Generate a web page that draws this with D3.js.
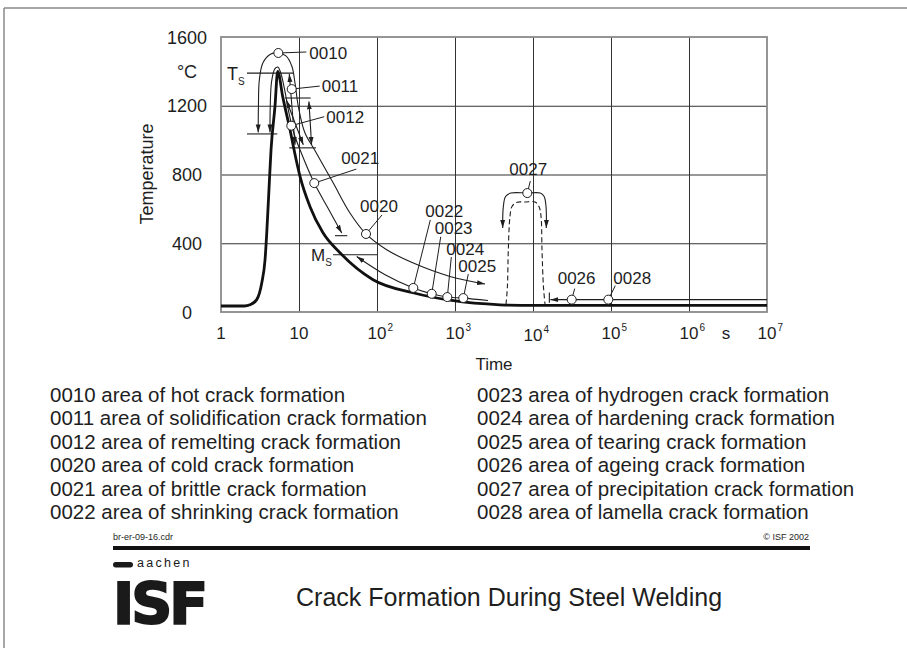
<!DOCTYPE html>
<html><head><meta charset="utf-8">
<script src="https://cdn.jsdelivr.net/npm/d3@7"></script>
<style>
html,body{margin:0;padding:0;background:#fff;}
svg{display:block;font-family:"Liberation Sans",Arial,Helvetica,sans-serif;}
</style></head><body>
<svg id="chart" width="907" height="648"></svg>
<script>
// ---------- data (time in s, temperature in °C) ----------
const timeTicks = [1, 10, 1e2, 1e3, 1e4, 1e5, 1e6, 1e7];
const timeTickExponents = [0, 1, 2, 3, 4, 5, 6, 7];
const tempTicks = [0, 400, 800, 1200, 1600];

const thermalCycle = [[1,35],[2.0,35],[2.35,42],[2.87,72],[3.33,169],[3.67,304],[3.86,460],[4.12,712],[4.38,944],[4.92,1196],[5.33,1400],[6.2,1250],[7.67,1060],[9.15,890],[10.3,789],[13.8,614],[20.3,461],[33.5,345],[89,188],[289,112],[907,67],[3776,42],[1e4,38],[1e7,38]];
const hotCrackCurve = [[3.0,1045],[3.02,1200],[3.1,1350],[3.45,1450],[4.3,1500],[5.43,1507],[6.8,1490],[8.1,1430],[8.9,1330],[9.8,1196],[11.9,1043],[16,940],[27.5,750],[45,576],[72.3,454],[133,362],[292,285],[863,207],[2425,163]];
const brittleCrackCurve = [[4.25,1045],[4.28,1200],[4.45,1340],[4.9,1415],[5.35,1425],[5.8,1395],[6.5,1300],[7.5,1150],[8.6,1040],[10.3,944],[15.7,750],[23.5,605],[35.3,460]];
const coolingCrackCurve = [[54.9,323],[127,217],[292,140],[503,106],[797,87],[1277,81],[2650,67]];
const precipitationArc = [[4090,489],[4160,610],[4450,672],[5200,692],[8453,692],[12400,692],[13900,672],[14700,610],[14800,489]];
const reheatCycle = [[4508,45],[4700,150],[4824,362],[5070,556],[5380,614],[6235,638],[7890,640],[10610,640],[11930,614],[12670,556],[13040,362],[13600,150],[14260,45]];
const ageingLine = [[16700,72],[1e7,72]];
const ageingBar = [[16200,114],[16200,54]];

const solidusLine = [[2.154,1390],[8.44,1390]];
const solidusLowerBar = [[2.154,1036],[5.27,1036]];
const remeltUpperBar = [[6.62,1245],[14.1,1245]];
const remeltLowerBar = [[7.51,955],[16.5,955]];
const rangeArrowA = [[8.89,973],[7.51,1385]];
const rangeArrowB = [[11.35,973],[6.9,1232]];
const rangeArrowC = [[14.5,973],[13.4,1225]];
const brittleBar = [[28.9,444],[41.6,444]];
const msLine = [[27.3,333],[100,333]];

const markCodes = ["0010","0011","0012","0021","0020","0022","0023","0024","0025","0027","0026","0028"];
const markTimes = [5.43, 8.06, 7.96, 15.7, 72.3, 292, 503, 797, 1277, 8453, 31340, 92400];
const markTemps = [1507, 1297, 1084, 750, 454, 140, 106, 87, 81, 692, 72, 72];

const legendCodes = ["0010","0011","0012","0020","0021","0022","0023","0024","0025","0026","0027","0028"];
const legendTexts = ["area of hot crack formation","area of solidification crack formation","area of remelting crack formation","area of cold crack formation","area of brittle crack formation","area of shrinking crack formation","area of hydrogen crack formation","area of hardening crack formation","area of tearing crack formation","area of ageing crack formation","area of precipitation crack formation","area of lamella crack formation"];

// ---------- layout ----------
const svg = d3.select("#chart");
const L = 221, R = 767, T = 37, B = 312;
const x = d3.scaleLog().domain([1, 1e7]).range([L, R]);
const y = d3.scaleLinear().domain([0, 1600]).range([B, T]);
const ink = "#1e1e1e";

// label offsets (pixels) for each mark: leader end, text start (centre line)
const markLayout = {
  "0010": {lx:28, ly:-1, tx:31, ty:0},
  "0011": {lx:28, ly:-3, tx:30, ty:-3},
  "0012": {lx:33, ly:-9, tx:35, ty:-9},
  "0021": {lx:42, ly:-14, tx:27, ty:-25},
  "0020": {lx:16, ly:-19, tx:-6, ty:-28},
  "0022": {lx:17, ly:-68, tx:12, ty:-77},
  "0023": {lx:9, ly:-57, tx:3, ty:-66},
  "0024": {lx:4, ly:-40, tx:-1, ty:-48},
  "0025": {lx:5, ly:-24, tx:-5, ty:-32},
  "0027": {lx:3, ly:-12, tx:-18, ty:-24},
  "0026": {lx:3, ly:-11, tx:-14, ty:-22},
  "0028": {lx:7, ly:-14, tx:5, ty:-22}
};

// page frame
svg.append("line").attr("x1",4).attr("y1",8).attr("x2",907).attr("y2",8).attr("stroke","#888").attr("stroke-width",1.5);
svg.append("line").attr("x1",4).attr("y1",8).attr("x2",4).attr("y2",648).attr("stroke","#888").attr("stroke-width",1.5);

// arrow marker
const defs = svg.append("defs");
defs.append("marker").attr("id","ah").attr("viewBox","0 0 10 8").attr("refX",10).attr("refY",4)
  .attr("markerWidth",8).attr("markerHeight",6.4).attr("markerUnits","userSpaceOnUse")
  .attr("orient","auto-start-reverse")
  .append("path").attr("d","M0,0.9 L10,4 L0,7.1 Z").attr("fill",ink);

// grid via axes
const gx = svg.append("g").attr("transform",`translate(0,${B})`)
  .call(d3.axisBottom(x).tickValues(timeTicks.slice(1,-1)).tickSize(-(B-T)).tickFormat(""));
gx.select(".domain").remove();
gx.selectAll("line").attr("stroke","#333").attr("stroke-width",1);
const gy = svg.append("g").attr("transform",`translate(${L},0)`)
  .call(d3.axisLeft(y).tickValues(tempTicks.slice(1,-1)).tickSize(-(R-L)).tickFormat(""));
gy.select(".domain").remove();
gy.selectAll("line").attr("stroke","#333").attr("stroke-width",1);
svg.append("rect").attr("x",x(1)).attr("y",y(1600)).attr("width",x(1e7)-x(1)).attr("height",y(0)-y(1600))
  .attr("fill","none").attr("stroke","#8a8a8a").attr("stroke-width",1.8);

// y tick labels
svg.append("g").selectAll("text").data(tempTicks).join("text")
  .attr("x",187).attr("y",d=>y(d)+6.5).attr("text-anchor","middle")
  .attr("font-size",18).attr("fill",ink).text(d=>d);
svg.append("text").attr("x",187).attr("y",78).attr("text-anchor","middle").attr("font-size",18).attr("fill",ink).text("°C");
svg.append("text").attr("transform","translate(153,174) rotate(-90)").attr("text-anchor","middle")
  .attr("font-size",18).attr("fill",ink).text("Temperature");

// x tick labels
const xl = svg.append("g").selectAll("text").data(timeTicks).join("text")
  .attr("y",(d,i)=> timeTickExponents[i] === 4 ? 341 : 339).attr("font-size",17).attr("fill",ink)
  .attr("x",(d,i)=> timeTickExponents[i] < 2 ? x(d) : x(d)-9.5)
  .attr("text-anchor",(d,i)=> timeTickExponents[i] < 2 ? "middle" : "start");
xl.each(function(d,i){
  const e = timeTickExponents[i], t = d3.select(this);
  if (e === 0) t.text("1");
  else if (e === 1) t.text("10");
  else { t.append("tspan").text("10"); t.append("tspan").attr("dy",-8).attr("dx",1).attr("font-size",10).text(e); }
});
svg.append("text").attr("x",726).attr("y",339).attr("text-anchor","middle").attr("font-size",17).attr("fill",ink).text("s");
svg.append("text").attr("x",(L+R)/2).attr("y",370).attr("text-anchor","middle").attr("font-size",17).attr("fill",ink).text("Time");

// line generators
const smooth = d3.line(d=>x(d[0]), d=>y(d[1])).curve(d3.curveCatmullRom.alpha(0.5));
const straight = d3.line(d=>x(d[0]), d=>y(d[1]));
const mono = d3.line(d=>x(d[0]), d=>y(d[1])).curve(d3.curveMonotoneX);

const thin = (g, d, gen, opts={}) => {
  const p = g.append("path").attr("d",gen(d)).attr("fill","none").attr("stroke",ink).attr("stroke-width",opts.w||1.1);
  if (opts.start) p.attr("marker-start","url(#ah)");
  if (opts.end) p.attr("marker-end","url(#ah)");
  if (opts.dash) p.attr("stroke-dasharray",opts.dash);
  return p;
};
const plot = svg.append("g");

// thin curves and arrows
thin(plot, hotCrackCurve, smooth, {start:true, end:true});
thin(plot, brittleCrackCurve, smooth, {start:true, end:true});
thin(plot, coolingCrackCurve, smooth, {start:true});
thin(plot, precipitationArc, smooth, {start:true, end:true});
thin(plot, reheatCycle, smooth, {dash:"5,3"});
thin(plot, ageingLine, straight, {start:true});
thin(plot, ageingBar, straight);
thin(plot, solidusLine, straight);
thin(plot, solidusLowerBar, straight);
thin(plot, remeltUpperBar, straight);
thin(plot, remeltLowerBar, straight);
thin(plot, rangeArrowA, straight, {start:true, end:true});
thin(plot, rangeArrowB, straight, {start:true, end:true});
thin(plot, rangeArrowC, straight, {start:true, end:true});
thin(plot, brittleBar, straight);
thin(plot, msLine, straight);

// thick thermal cycle
plot.append("path").attr("d",mono(thermalCycle)).attr("fill","none").attr("stroke","#111").attr("stroke-width",2.8).attr("stroke-linejoin","round");

// Ts and Ms labels
const ts = svg.append("text").attr("x",x(2.154)-20).attr("y",y(1390)+6.5).attr("font-size",18).attr("fill",ink);
ts.append("tspan").text("T"); ts.append("tspan").attr("dy",5).attr("font-size",10).text("S");
const ms = svg.append("text").attr("x",x(27.3)-22).attr("y",y(333)+6).attr("font-size",17).attr("fill",ink);
ms.append("tspan").text("M"); ms.append("tspan").attr("dy",5).attr("font-size",10).text("S");

// marks: leader, circle, label
const marks = markCodes.map((c,i)=>({code:c, t:markTimes[i], v:markTemps[i]}));
const mg = svg.append("g").selectAll("g").data(marks).join("g")
  .attr("transform",d=>`translate(${x(d.t)},${y(d.v)})`);
mg.append("line").attr("x1",0).attr("y1",0).attr("x2",d=>markLayout[d.code].lx).attr("y2",d=>markLayout[d.code].ly)
  .attr("stroke",ink).attr("stroke-width",1);
mg.append("circle").attr("r",4.5).attr("fill","#fff").attr("stroke",ink).attr("stroke-width",1);
mg.append("text").attr("x",d=>markLayout[d.code].tx).attr("y",d=>markLayout[d.code].ty+6)
  .attr("font-size",17).attr("fill",ink).text(d=>d.code);

// legend
const legend = legendCodes.map((c,i)=>({code:c, text:legendTexts[i], col: i<6?0:1, row:i%6}));
svg.append("g").selectAll("text").data(legend).join("text")
  .attr("x",d=>d.col? 477 : 50).attr("y",d=>395 + d.row*23.4 + 7)
  .attr("font-size",20.5).attr("fill",ink).text(d=>d.code+" "+d.text);

// footer
svg.append("text").attr("x",113).attr("y",540).attr("font-size",9).attr("fill",ink).text("br-er-09-16.cdr");
svg.append("text").attr("x",809).attr("y",540).attr("text-anchor","end").attr("font-size",9).attr("fill",ink).text("© ISF 2002");
svg.append("rect").attr("x",113).attr("y",546).attr("width",697).attr("height",4).attr("fill","#111");

// logo: small "aachen" with bar above the block letters "ISF"
svg.append("rect").attr("x",113).attr("y",562).attr("width",20).attr("height",5.5).attr("rx",2.75).attr("fill","#1a1a1a");
svg.append("text").attr("x",137).attr("y",567).attr("font-size",12.5).attr("letter-spacing",2.3).attr("fill","#1a1a1a").text("aachen");
svg.append("text").attr("x",113).attr("y",624).attr("font-family","DejaVu Sans").attr("font-weight","bold")
  .attr("font-size",57).attr("letter-spacing",-3).attr("stroke","#1a1a1a").attr("stroke-width",2).attr("fill","#1a1a1a").text("ISF");
svg.append("text").attr("x",296).attr("y",606).attr("font-size",25).attr("fill",ink).text("Crack Formation During Steel Welding");
</script>
</body></html>
